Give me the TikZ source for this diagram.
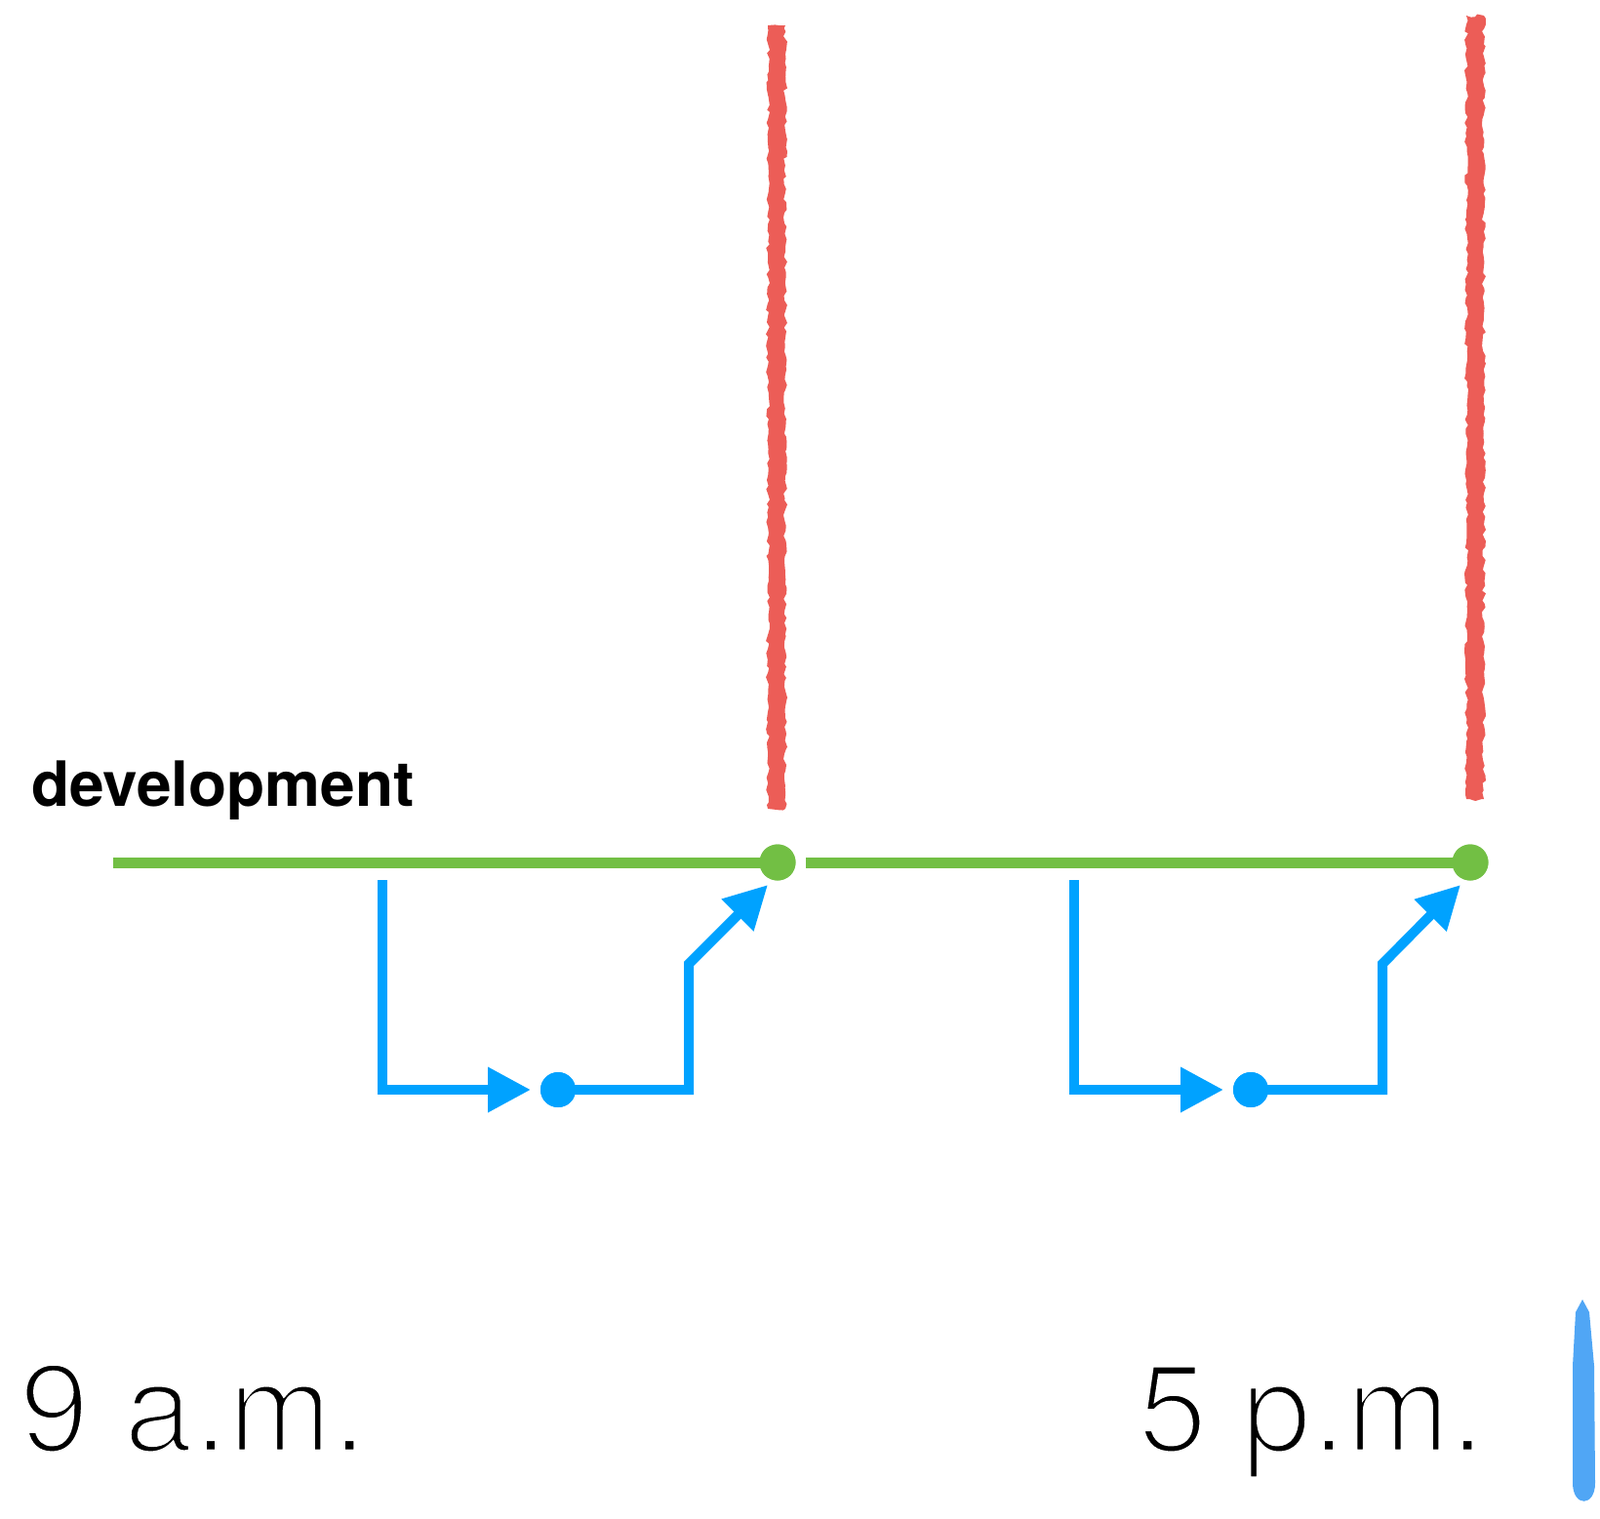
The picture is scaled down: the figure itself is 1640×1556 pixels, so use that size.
\documentclass[tikz,border=0pt]{standalone}
\usepackage{fontspec}
\setmainfont{TeX Gyre Heros}
\usetikzlibrary{arrows.meta,decorations.pathmorphing}
\definecolor{devgreen}{RGB}{114,191,68}
\definecolor{pencilred}{RGB}{236,93,87}
\definecolor{flowblue}{RGB}{0,162,255}
\definecolor{markblue}{RGB}{80,166,245}
\newcommand\thintext[1]{\special{pdf:literal direct 1 G 5 w 2 Tr}#1\special{pdf:literal direct 0 Tr 0 G}}
\begin{document}
\begin{tikzpicture}[x=1pt,y=-1pt,
  greenline/.style={devgreen,line width=11pt},
  greendot/.style={circle,fill=devgreen,inner sep=0pt,minimum size=37pt},
  bluedot/.style={circle,fill=flowblue,inner sep=0pt,minimum size=36pt},
  flow/.style={flowblue,line width=10pt,line join=miter,line cap=butt},
  flowtip/.style={flow,-{Triangle[length=44pt,width=44pt]}},
  redpen/.style={fill=pencilred,decorate,decoration={random steps,segment length=5pt,amplitude=2pt}},
  bigtime/.style={anchor=base west,inner sep=0pt,font=\fontsize{128}{128}\selectfont},
  lbl/.style={anchor=base west,inner sep=0pt,font=\fontsize{64}{64}\selectfont\bfseries}]
\useasboundingbox (0,0) rectangle (1640,1556);
% red pencil marks
\fill[redpen] (787,26) rectangle (805,829);
\fill[redpen] (1503,16) rectangle (1521,819);
% label
\node[lbl] (dev) at (32,826) {development};
% green line and dots
\coordinate (gstart) at (116,884);
\node[greendot] (g1) at (797,884) {};
\coordinate (gmid) at (826,884);
\node[greendot] (g2) at (1507,884) {};
\draw[greenline] (gstart) -- (g1.center);
\draw[greenline] (gmid) -- (g2.center);
\node[greendot] at (g1) {};
\node[greendot] at (g2) {};
% blue branch 1
\coordinate (a0) at (392,902);
\coordinate (a1) at (392,1117);
\node[bluedot] (b1) at (572,1117) {};
\coordinate (a2) at (706,1117);
\coordinate (a3) at (706,988);
\coordinate (a4) at (787,907);
\draw[flowtip] (a0) -- (a1) -- ([xshift=-28pt]b1.center);
\draw[flowtip] (b1.center) -- (a2) -- (a3) -- (a4);
% blue branch 2
\coordinate (c0) at (1101,902);
\coordinate (c1) at (1101,1117);
\node[bluedot] (b2) at (1282,1117) {};
\coordinate (c2) at (1417,1117);
\coordinate (c3) at (1417,988);
\coordinate (c4) at (1497,907);
\draw[flowtip] (c0) -- (c1) -- ([xshift=-28pt]b2.center);
\draw[flowtip] (b2.center) -- (c2) -- (c3) -- (c4);
\node[bluedot] at (b1) {};
\node[bluedot] at (b2) {};
% time labels
\node[bigtime] (nine) at (20,1488) {\thintext{9 a.m.}};
\node[bigtime] (five) at (1166,1488) {\thintext{5 p.m.}};
% blue pen mark
\fill[markblue] (1622,1332) -- (1629,1345) -- (1634,1400) -- (1635,1520)
  .. controls (1635,1545) and (1612,1545) .. (1612,1520) -- (1612,1400) -- (1615,1345) -- cycle;
\end{tikzpicture}
\end{document}
